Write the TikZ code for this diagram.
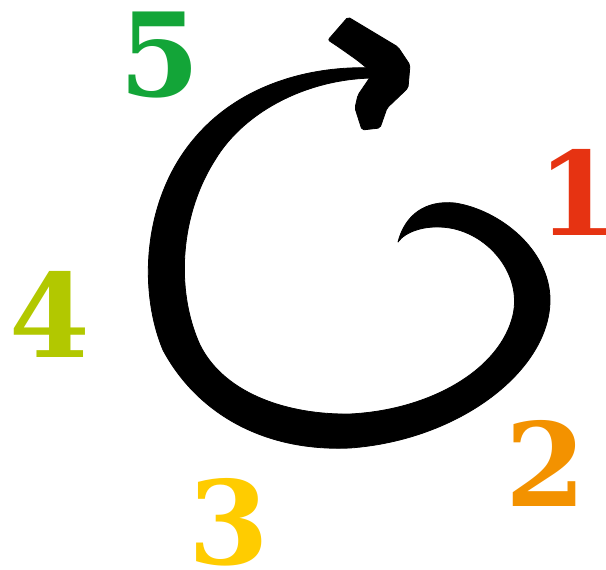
\documentclass[tikz,border=0pt]{standalone}
\usepackage{fontspec}
\newfontfamily\numfont{DejaVu Serif}
\usepackage{tikz}
\usetikzlibrary{positioning}

\definecolor{stepred}{HTML}{E63312}
\definecolor{steporange}{HTML}{F39200}
\definecolor{stepyellow}{HTML}{FFCC00}
\definecolor{steplime}{HTML}{B2C800}
\definecolor{stepgreen}{HTML}{13A538}

\begin{document}
\begin{tikzpicture}[
			x=1pt, y=-1pt,
			numlabel/.style={
				inner sep=0pt,
				font=\numfont\bfseries\fontsize{116}{116}\selectfont
			},
			brush/.style={
				fill=black,
				draw=black,
				line width=0.8pt,
				line join=round
			}
			]
			\useasboundingbox (0,0) rectangle (606,570);
			
			% spiral stroke
			\path[brush] (398,242)
				.. controls (405,215) and (425,200) .. (455,203)
				.. controls (500,210) and (550,250) .. (550,300)
				.. controls (550,370) and (460,440) .. (350,448)
				.. controls (260,452) and (195,410) .. (163,350)
				.. controls (138,290) and (143,200) .. (193,140)
				.. controls (238,85) and (310,65) .. (375,68)
				-- (376,78)
				.. controls (310,78) and (245,110) .. (215,160)
				.. controls (180,215) and (175,290) .. (200,345)
				.. controls (225,395) and (290,415) .. (350,414)
				.. controls (430,410) and (500,370) .. (513,315)
				.. controls (522,275) and (490,235) .. (450,228)
				.. controls (425,224) and (405,232) .. (398,242) -- cycle;
			
			% arrow head
			\path[brush, rounded corners=2pt] (328,40) -- (348,17) -- (398,47) -- (410,65)
				-- (408,88) -- (387,108) -- (380,128) -- (362,130) -- (355,108)
				-- (358,95) -- (373,73) -- (357,60) -- (340,48) -- cycle;
			
			% numbers
			\node[numlabel, text=stepred] (n1) at (578,192) {1};
			\node[numlabel, text=steporange] (n2) at (546,463) {2};
			\node[numlabel, text=stepyellow] (n3) at (229,522) {3};
			\node[numlabel, text=steplime] (n4) at (50,314) {4};
			\node[numlabel, text=stepgreen] (n5) at (160,55) {5};
		\end{tikzpicture}
\end{document}
